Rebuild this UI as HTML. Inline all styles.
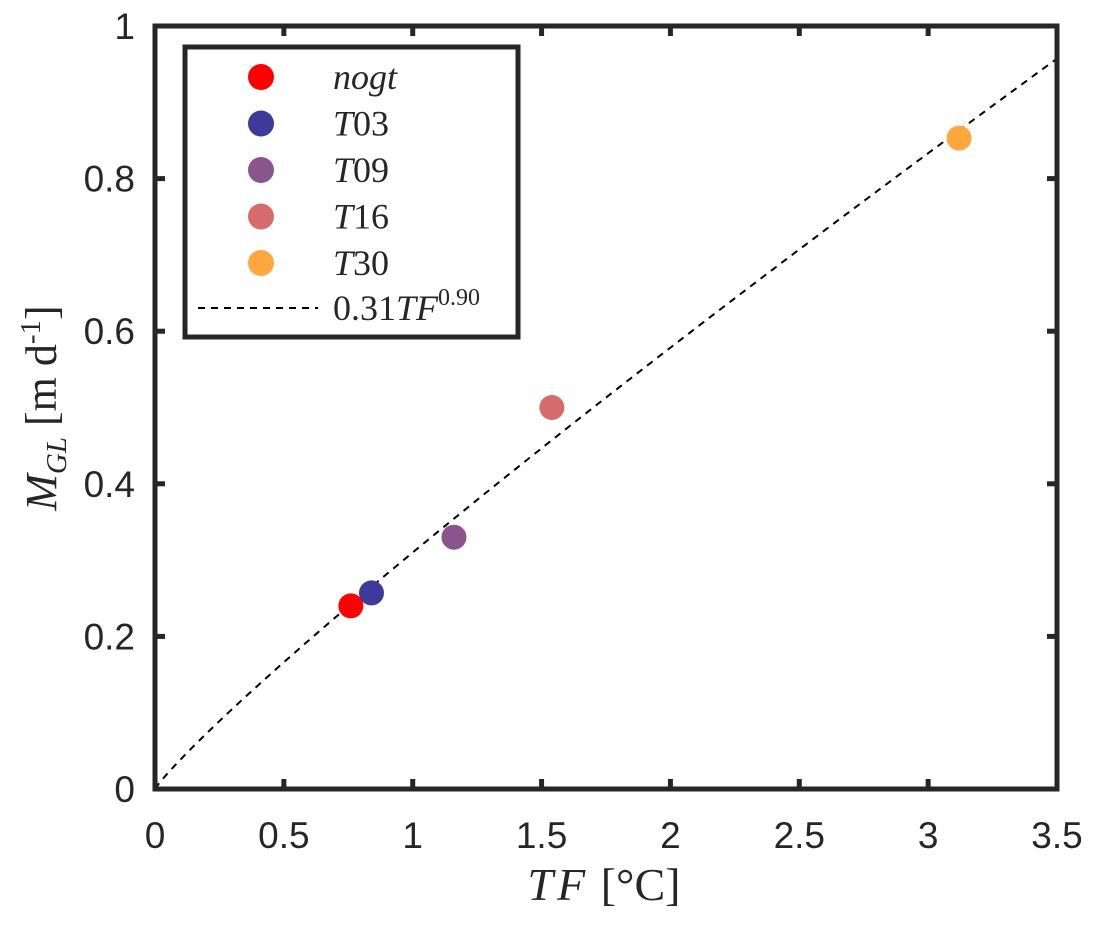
<!DOCTYPE html>
<html><head><meta charset="utf-8"><style>
body{margin:0;background:#fff}
svg text{font-family:"Liberation Sans",sans-serif;fill:#262626}
.s{font-family:"Liberation Serif",serif}
</style></head><body>
<svg id="c" width="1096" height="925" xmlns="http://www.w3.org/2000/svg" style="position:absolute;left:0;top:0">
<g id="g"></g>
<text x="604" y="900" font-size="46" text-anchor="middle" fill="#262626" style="font-family:'Liberation Serif',serif"><tspan font-style="italic" letter-spacing="4">TF</tspan> [°C]</text>
<text transform="translate(56,408) rotate(-90)" font-size="44" text-anchor="middle" fill="#262626" style="font-family:'Liberation Serif',serif"><tspan font-style="italic">M</tspan><tspan font-style="italic" font-size="29" dy="10">GL</tspan><tspan dy="-10"> [m d</tspan><tspan font-size="29" dy="-16">-1</tspan><tspan dy="16">]</tspan></text>
</svg>
<script>
const xTicks=[0,0.5,1,1.5,2,2.5,3,3.5];
const xTickLabels=["0","0.5","1","1.5","2","2.5","3","3.5"];
const yTicks=[0,0.2,0.4,0.6,0.8,1];
const yTickLabels=["0","0.2","0.4","0.6","0.8","1"];
const seriesNames=["nogt","T03","T09","T16","T30"];
const seriesTF=[0.76,0.84,1.16,1.54,3.12];
const seriesM=[0.24,0.257,0.33,0.50,0.853];
const seriesColors=["#ff0000","#3f3a9a","#8a548c","#d66b6b","#fea73f"];
const fitCoef=0.31, fitExp=0.90;

const L=155,R=1057,T=26,B=789;
const X=v=>L+(v-0)/(3.5-0)*(R-L);
const Y=v=>B-(v-0)/(1-0)*(B-T);
const NS="http://www.w3.org/2000/svg";
const g=document.getElementById('g');
function mk(t,a,p){const e=document.createElementNS(NS,t);for(const k in a)e.setAttribute(k,a[k]);(p||g).appendChild(e);return e;}

let d="";
for(let i=0;i<=200;i++){const x=3.5*i/200;d+=(i?"L":"M")+X(x).toFixed(2)+","+Y(fitCoef*Math.pow(x,fitExp)).toFixed(2);}
const fit=mk('path',{d:d,fill:'none',stroke:'#000','stroke-width':2,'stroke-dasharray':'7,6'});



seriesTF.forEach((v,i)=>{
 const c=mk('circle',{cx:X(v),cy:Y(seriesM[i]),r:12.5,fill:seriesColors[i]});
 
 
});

const box=mk('rect',{x:L,y:T,width:R-L,height:B-T,fill:'none',stroke:'#262626','stroke-width':5});



xTicks.forEach((v,i)=>{
 mk('line',{x1:X(v),x2:X(v),y1:B,y2:B-10,stroke:'#262626','stroke-width':5});
 mk('line',{x1:X(v),x2:X(v),y1:T,y2:T+10,stroke:'#262626','stroke-width':5});
 const t=mk('text',{x:X(v),y:848,'font-size':37,'text-anchor':'middle'});
 t.textContent=xTickLabels[i];
 
 
});
yTicks.forEach((v,i)=>{
 mk('line',{x1:L,x2:L+10,y1:Y(v),y2:Y(v),stroke:'#262626','stroke-width':5});
 mk('line',{x1:R,x2:R-10,y1:Y(v),y2:Y(v),stroke:'#262626','stroke-width':5});
 const t=mk('text',{x:135,y:Y(v)+13,'font-size':37,'text-anchor':'end'});
 t.textContent=yTickLabels[i];
 
 
});

const lg=mk('g',{});


mk('rect',{x:185,y:47,width:333,height:290,fill:'#fff',stroke:'#262626','stroke-width':5},lg);
seriesNames.forEach((n,i)=>{
 const yy=77+i*46.5;
 const c=mk('circle',{cx:261,cy:yy,r:13,fill:seriesColors[i]},lg);
 
 
 const t=mk('text',{x:333,y:yy+12,'font-size':36,'class':'s','font-style':'italic',fill:'#000'},lg);
 if(i===0){t.textContent=n;}
 else{const a=mk('tspan',{},t);a.textContent=n[0];const b=mk('tspan',{'font-style':'normal'},t);b.textContent=n.slice(1);}
 
 
});
mk('line',{x1:198,x2:318,y1:308,y2:308,stroke:'#000','stroke-width':2,'stroke-dasharray':'7,6'},lg);
const ft=mk('text',{x:333,y:320,'font-size':36,'class':'s',fill:'#000'},lg);
ft.innerHTML='0.31<tspan font-style="italic">TF</tspan><tspan font-size="24" dy="-15">0.90</tspan>';


</script>
</body></html>
